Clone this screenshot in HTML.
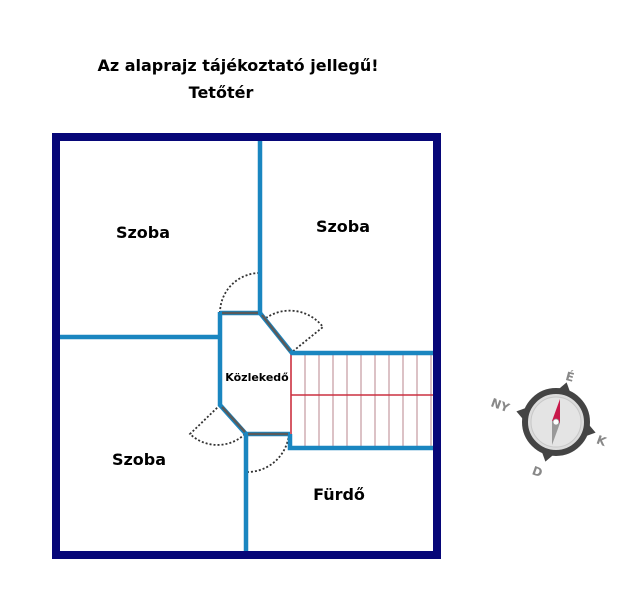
<!DOCTYPE html>
<html><head><meta charset="utf-8"><style>
html,body{margin:0;padding:0;background:#fff;overflow:hidden;}
svg{display:block;}
text{font-family:"DejaVu Sans","Liberation Sans",sans-serif;font-weight:bold;fill:#000;}
</style></head><body>
<svg width="640" height="592" viewBox="0 0 640 592" xmlns="http://www.w3.org/2000/svg">
<text x="238" y="71" font-size="16" text-anchor="middle">Az alaprajz tájékoztató jellegű!</text>
<text x="221" y="98" font-size="16" text-anchor="middle">Tetőtér</text>

<!-- stairs -->
<g stroke="#c9a0a8" stroke-width="1.3">
<line x1="305" y1="355" x2="305" y2="446"/><line x1="319" y1="355" x2="319" y2="446"/>
<line x1="333" y1="355" x2="333" y2="446"/><line x1="347" y1="355" x2="347" y2="446"/>
<line x1="361" y1="355" x2="361" y2="446"/><line x1="375" y1="355" x2="375" y2="446"/>
<line x1="389" y1="355" x2="389" y2="446"/><line x1="403" y1="355" x2="403" y2="446"/>
<line x1="417" y1="355" x2="417" y2="446"/><line x1="431" y1="355" x2="431" y2="446"/>
</g>
<g stroke="#cc3040" stroke-width="1.6">
<line x1="291" y1="354" x2="291" y2="446"/><line x1="291" y1="395" x2="434" y2="395"/>
</g>

<!-- door arcs -->
<g fill="none" stroke="#333" stroke-width="1.8" stroke-dasharray="2,2">
<path d="M220 313 A40 40 0 0 1 258 273"/>
<path d="M266 318 A42 42 0 0 1 323 327 L292 352"/>
<path d="M220 405 L190 434 A40 40 0 0 0 246 433"/>
<path d="M247 472 A42 42 0 0 0 289 434"/>
</g>

<!-- blue walls -->
<g fill="none" stroke="#1a86c0" stroke-width="4.5">
<line x1="260" y1="140" x2="260" y2="313"/>
<line x1="58" y1="337" x2="220" y2="337"/>
<polyline points="220,312 220,405 246,434 246,552"/>
<polyline points="260,313 292,353 434,353"/>
<polyline points="290,434 290,448 434,448"/>
<line x1="220" y1="313" x2="260" y2="313"/>
<line x1="246" y1="434" x2="290" y2="434"/>
</g>
<g stroke="#5a5a5a" stroke-width="2.5">
<line x1="222" y1="313" x2="258" y2="313"/>
<line x1="262" y1="315" x2="290" y2="351"/>
<line x1="222" y1="407" x2="245" y2="432"/>
<line x1="248" y1="434" x2="288" y2="434"/>
</g>

<!-- outer -->
<rect x="56" y="137" width="381" height="418" fill="none" stroke="#070778" stroke-width="8"/>

<text x="143" y="238" font-size="16" text-anchor="middle">Szoba</text>
<text x="343" y="232" font-size="16" text-anchor="middle">Szoba</text>
<text x="139" y="465" font-size="16" text-anchor="middle">Szoba</text>
<text x="339" y="500" font-size="16" text-anchor="middle">Fürdő</text>
<text x="257" y="381" font-size="11" text-anchor="middle">Közlekedő</text>

<!-- compass -->
<g transform="translate(556,422)">
<g fill="#444">
<polygon points="-9,-28 0,-41 9,-28" transform="rotate(15)"/>
<polygon points="-9,-28 0,-41 9,-28" transform="rotate(105)"/>
<polygon points="-9,-28 0,-41 9,-28" transform="rotate(195)"/>
<polygon points="-9,-28 0,-41 9,-28" transform="rotate(285)"/>
</g>
<circle r="31" fill="#dcdcdc" stroke="#444" stroke-width="6"/>
<circle r="25" fill="#e4e4e4" stroke="#c8c8c8" stroke-width="1"/>
<polygon points="4,-23 -4,-1 4,1" fill="#c8184a"/>
<polygon points="-4,23 4,1 -4,-1" fill="#999"/>
<circle r="3" fill="#fff" stroke="#999" stroke-width="0.8"/>
</g>
<g font-size="12">
<text x="566" y="381" style="fill:#888" transform="rotate(15 570 376)">É</text>
<text x="491" y="410" style="fill:#888" transform="rotate(20 502 405)">NY</text>
<text x="597" y="445" style="fill:#888" transform="rotate(20 602 440)">K</text>
<text x="533" y="476" style="fill:#888" transform="rotate(20 538 470)">D</text>
</g>
</svg>
</body></html>
